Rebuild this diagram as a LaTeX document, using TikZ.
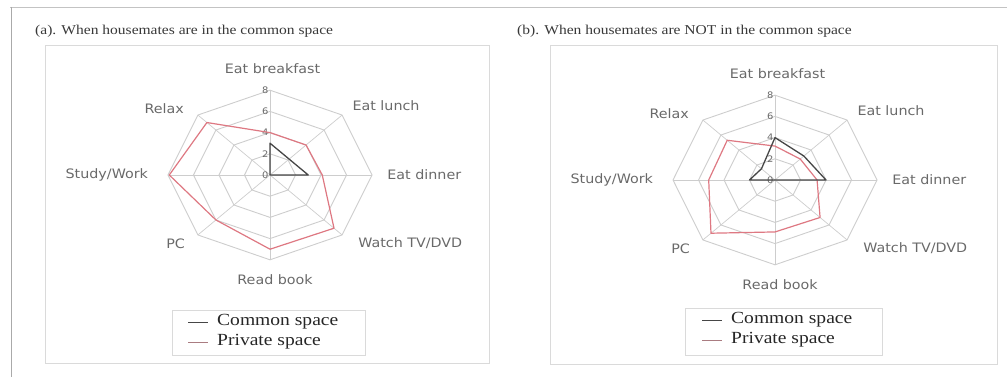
\documentclass[tikz,border=0pt]{standalone}
\usepackage{fontspec}
\setmainfont[FakeStretch=1.15]{Liberation Serif}
\newfontfamily\axisfont[FakeStretch=1.1]{DejaVu Sans}
\usepackage{tikz}
\usetikzlibrary{calc}

\definecolor{framegray}{RGB}{170,170,170}
\definecolor{boxgray}{RGB}{218,218,218}
\definecolor{gridgray}{RGB}{205,205,205}
\definecolor{labelgray}{RGB}{105,105,105}
\definecolor{commonline}{RGB}{70,70,70}
\definecolor{privateline}{RGB}{222,120,130}

\tikzset{
	gridline/.style={line width=0.9pt, color=gridgray},
	axisline/.style={line width=0.7pt, color=gridgray},
	commonspace/.style={line width=1.3pt, color=commonline, line join=round},
	privatespace/.style={line width=1.2pt, color=privateline, line join=round},
	axislabel/.style={font=\axisfont\fontsize{13}{13}\selectfont, text=labelgray, inner sep=0pt},
	ticklabel/.style={font=\axisfont\fontsize{9}{9}\selectfont, text=labelgray, inner sep=1.5pt, anchor=east},
	paneltitle/.style={font=\fontsize{13.5}{14}\selectfont, text=black!78, anchor=west, inner sep=0pt},
	legendtext/.style={font=\fontsize{17}{17}\selectfont, text=black!85, anchor=west, inner sep=0pt},
}

% octagon rings, spokes, scale and activity names of one chart (#1 = prefix of node names)
\def\radargrid#1{
	\foreach \r in {2,4,6,8}
		\draw[gridline] (90:\r) -- (45:\r) -- (0:\r) -- (-45:\r) -- (-90:\r) -- (-135:\r) -- (180:\r) -- (135:\r) -- cycle;
	\foreach \a in {0,45,...,315}
		\draw[axisline] (0,0) -- (\a:8);
	\foreach \r in {0,2,4,6,8}
		\node[ticklabel] (#1tick\r) at (90:\r) {\r};
	\node[axislabel] (#1breakfast) at (0.2, 10) {Eat breakfast};
	\node[axislabel] (#1lunch) at (9.1, 6.5) {Eat lunch};
	\node[axislabel] (#1dinner) at (12.1, 0) {Eat dinner};
	\node[axislabel] (#1tv) at (11, -6.4) {Watch TV/DVD};
	\node[axislabel] (#1book) at (0.4, -9.9) {Read book};
	\node[axislabel] (#1pc) at (-7.4, -6.5) {PC};
	\node[axislabel] (#1study) at (-12.8, 0) {Study/Work};
	\node[axislabel] (#1relax) at (-8.3, 6.3) {Relax};
}

\begin{document}
\begin{tikzpicture}[x=1pt, y=-1pt]
			%%%%% START %%%%%
			\useasboundingbox (0, 0) rectangle (1007, 377);
			
			\draw[line width=0.8pt, color=framegray!70] (10, 7) -- (1007, 7);
			\draw[line width=1pt, color=framegray] (11, 7) -- (11, 377);
			
			%% (a)
			\node[paneltitle] (atitle) at (35, 31) {(a). When housemates are in the common space};
			\draw[line width=0.8pt, color=boxgray] (45, 45) rectangle (489, 363);
			
			\begin{scope}[shift={(270, 175)}, x=12.75pt, y=10.6pt]
				\radargrid{a}
				\draw[privatespace] (90:4) -- (45:4) -- (0:4.1) -- (-45:7.1) -- (-90:7) -- (-135:6) -- (180:7.9) -- (135:7) -- cycle;
				\draw[commonspace] (90:3) -- (0:3) -- (0, 0) -- cycle;
			\end{scope}
			
			\draw[line width=0.8pt, color=boxgray] (172, 310) rectangle (365, 355);
			\draw[commonspace, line width=1pt] (188, 322) -- (208, 322);
			\draw[privatespace, line width=1pt, color=privateline!45!gray] (188, 342) -- (208, 342);
			\node[legendtext] (acommon) at (217, 322) {Common space};
			\node[legendtext] (aprivate) at (217, 342) {Private space};
			
			%% (b)
			\node[paneltitle] (btitle) at (517, 31) {(b). When housemates are NOT in the common space};
			\draw[line width=0.8pt, color=boxgray] (550, 45) rectangle (997, 364);
			
			\begin{scope}[shift={(775, 180)}, x=12.75pt, y=10.6pt]
				\radargrid{b}
				\draw[privatespace] (90:3.2) -- (45:2.8) -- (0:3.3) -- (-45:5) -- (-90:4.9) -- (-135:7.1) -- (180:5.2) -- (135:5.3) -- cycle;
				\draw[commonspace] (90:4) -- (45:3.2) -- (0:4) -- (0, 0) -- (180:2) -- (135:1.5) -- cycle;
			\end{scope}
			
			\draw[line width=0.8pt, color=boxgray] (685, 308) rectangle (882, 355);
			\draw[commonspace, line width=1pt] (702, 320) -- (722, 320);
			\draw[privatespace, line width=1pt, color=privateline!45!gray] (702, 340) -- (722, 340);
			\node[legendtext] (bcommon) at (731, 320) {Common space};
			\node[legendtext] (bprivate) at (731, 340) {Private space};
			
			%%%%% END %%%%%
\end{tikzpicture}
\end{document}
